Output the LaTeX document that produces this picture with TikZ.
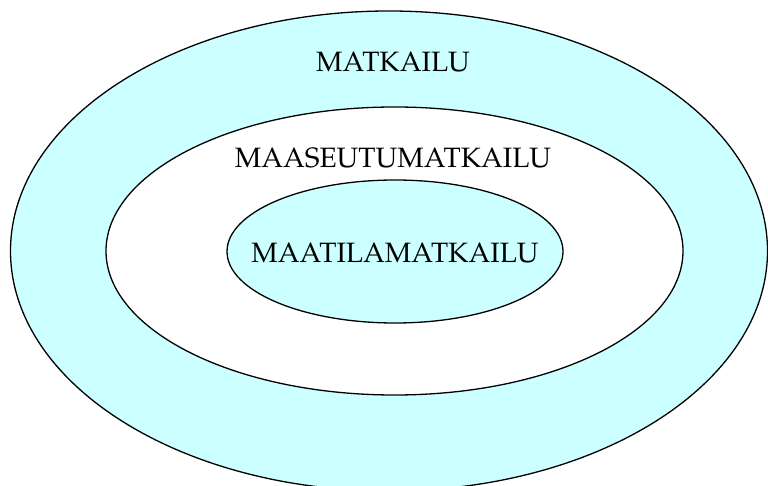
\documentclass[tikz,border=0pt]{standalone}
\usepackage[T1]{fontenc}
\usepackage{palatino}
\definecolor{lcyan}{HTML}{CCFFFF}
\tikzset{
  ring/.style={draw=black, line width=1.3pt},
  lbl/.style={font=\fontsize{28}{30}\selectfont, inner sep=0pt, anchor=center}
}
\begin{document}
\begin{tikzpicture}[x=1pt,y=-1pt]
\useasboundingbox (0,0) rectangle (768,486);
\begin{scope}
\clip (0,0) rectangle (768,486);
\draw[ring, fill=lcyan] (389,251) ellipse [x radius=378.5, y radius=240];
\draw[ring, fill=white] (394.5,251) ellipse [x radius=288.5, y radius=144];
\draw[ring, fill=lcyan] (395,251.5) ellipse [x radius=168, y radius=71.5];
\end{scope}
\node[lbl] (outer) at (393,62) {MATKAILU};
\node[lbl] (middle) at (393,158) {MAASEUTUMATKAILU};
\node[lbl] (inner) at (395,253) {MAATILAMATKAILU};
\end{tikzpicture}
\end{document}
